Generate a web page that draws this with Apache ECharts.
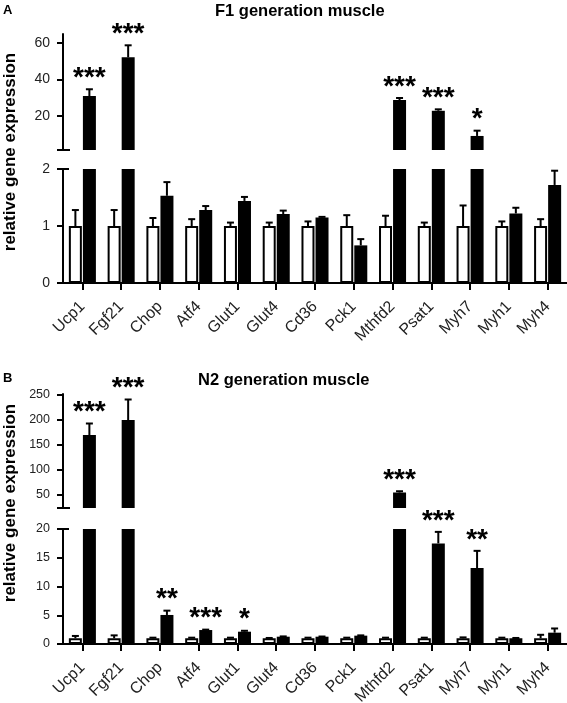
<!DOCTYPE html>
<html>
<head>
<meta charset="utf-8">
<script src="https://cdn.jsdelivr.net/npm/echarts@6/dist/echarts.min.js"></script>
<style>
html,body{margin:0;padding:0;background:#fff;}
#chart{width:567px;height:703px;}
</style>
</head>
<body>
<div id="chart"></div>
<script>
// ---------- data ----------
const genes = ['Ucp1','Fgf21','Chop','Atf4','Glut1','Glut4','Cd36','Pck1','Mthfd2','Psat1','Myh7','Myh1','Myh4'];

// Panel A: F1 generation muscle
const ctrlA    = [1,1,1,1,1,1,1,1,1,1,1,1,1];
const ctrlErrA = [1.28,1.28,1.14,1.12,1.06,1.06,1.08,1.19,1.18,1.06,1.36,1.08,1.12];
const trtA     = [31.0,52.2,1.53,1.28,1.44,1.21,1.15,0.66,28.8,22.9,9.1,1.22,1.72];
const trtErrA  = [34.7,58.8,1.77,1.35,1.51,1.27,1.16,0.77,29.9,23.7,12.0,1.32,1.97];
const sigA     = ['***','***','','','','','','','***','***','*','',''];

// Panel B: N2 generation muscle
const ctrlB    = [1,1,1,1,1,1,1,1,1,1,1,1,1];
const ctrlErrB = [1.4,1.5,1.1,1.1,1.1,1.05,1.1,1.1,1.1,1.1,1.15,1.1,1.6];
const trtB     = [170,200,5.05,2.43,2.14,1.27,1.27,1.45,55,17.5,13.2,1.0,1.97];
const trtErrB  = [193,241,5.8,2.5,2.3,1.32,1.3,1.5,57.5,19.5,16.2,1.05,2.7];
const sigB     = ['***','***','**','***','*','','','','***','***','**','',''];

// axis ticks
const ticksAUpper = [20,40,60];
const ticksALower = [0,1,2];
const ticksBUpper = [50,100,150,200,250];
const ticksBLower = [0,5,10,15,20];

// ---------- layout ----------
const FONT = 'Liberation Sans, Arial, sans-serif';
const L = 63, W = 504;
const grids = [
  {left:L, width:W, top:34,  height:116, outerBoundsMode:'none', containLabel:false},
  {left:L, width:W, top:169, height:114, outerBoundsMode:'none', containLabel:false},
  {left:L, width:W, top:394, height:114, outerBoundsMode:'none', containLabel:false},
  {left:L, width:W, top:529, height:115, outerBoundsMode:'none', containLabel:false}
];
const yRanges = [
  {min:1.4, max:65,  ticks:ticksAUpper, fs:14},
  {min:0,   max:2,   ticks:ticksALower, fs:14},
  {min:24,  max:252, ticks:ticksBUpper, fs:12.5},
  {min:0,   max:20,  ticks:ticksBLower, fs:12.5}
];

const xAxes = grids.map((g,i)=>{
  const lower = (i%2===1);
  return {
    type:'category', gridIndex:i, data:genes, show:lower,
    axisLine:{show:lower, lineStyle:{color:'#000', width:2}},
    axisTick:{show:lower, alignWithLabel:true, length:7, lineStyle:{color:'#000', width:2}},
    axisLabel:{show:lower, interval:0, rotate:45, margin:21, fontSize:16, fontFamily:FONT, color:'#222', hideOverlap:false},
    splitLine:{show:false}
  };
});
const yAxes = yRanges.map((r,i)=>({
  type:'value', gridIndex:i, min:r.min, max:r.max,
  axisLine:{show:true, lineStyle:{color:'#000', width:2}},
  axisTick:{show:true, length:6, customValues:r.ticks, lineStyle:{color:'#000', width:2}},
  axisLabel:{show:true, customValues:r.ticks, margin:13, fontSize:r.fs, fontFamily:FONT, color:'#222'},
  splitLine:{show:false}
}));

const series = [];
function addPanel(ctrl, ctrlErr, trt, trtErr, sig, gUpper, gLower) {
  const lowerMax = yRanges[gLower].max;
  [[gUpper,true],[gLower,false]].forEach(([g,isUpper])=>{
    const pick = (v)=> isUpper ? (v > lowerMax ? v : '-') : v;
    series.push({
      type:'bar', xAxisIndex:g, yAxisIndex:g, barWidth:13, barGap:'8%',
      data: ctrl.map(pick), clip:true, silent:true,
      itemStyle:{color:'#fff', borderColor:'#000', borderWidth:2}
    });
    series.push({
      type:'bar', xAxisIndex:g, yAxisIndex:g, barWidth:13, barGap:'8%',
      data: trt.map(pick), clip:true, silent:true,
      itemStyle:{color:'#000', borderColor:'#000', borderWidth:0}
    });
    const inGrid = (v)=> isUpper ? v > lowerMax : v <= lowerMax;
    const mk = (vals, errs, offset, sigs) => ({
      type:'custom', xAxisIndex:g, yAxisIndex:g, z:5, silent:true,
      data: vals.map((v,i)=>[i, v, errs[i]]).filter(d=>inGrid(d[1])),
      encode:{x:0, y:1},
      renderItem:(params, api)=>{
        const i = api.value(0), m = api.value(1), e = api.value(2);
        const p0 = api.coord([i, m]);
        const p1 = api.coord([i, e]);
        const cs = params.coordSys;
        const x = p0[0] + offset;
        const yTop = Math.max(p1[1], cs.y);
        const yBot = Math.min(p0[1], cs.y + cs.height);
        const ch = [
          {type:'line', shape:{x1:x, y1:yBot, x2:x, y2:yTop}, style:{stroke:'#000', lineWidth:2}},
          {type:'line', shape:{x1:x-3.5, y1:yTop, x2:x+3.5, y2:yTop}, style:{stroke:'#000', lineWidth:2}}
        ];
        if (sigs && sigs[i]) {
          ch.push({type:'text', style:{text:sigs[i], x:x, y:yTop-11, align:'center', verticalAlign:'middle',
            fontSize:28, fontWeight:'bold', fontFamily:FONT, fill:'#000'}});
        }
        return {type:'group', children:ch};
      }
    });
    series.push(mk(ctrl, ctrlErr, -7, null));
    series.push(mk(trt, trtErr, 7, sig));
  });
}
addPanel(ctrlA, ctrlErrA, trtA, trtErrA, sigA, 0, 1);
addPanel(ctrlB, ctrlErrB, trtB, trtErrB, sigB, 2, 3);

// break marks on the y axes
const breaks = [];
[[0,1],[2,3]].forEach(([u,lw])=>{
  const yb = grids[u].top + grids[u].height;
  const yt = grids[lw].top;
  breaks.push({type:'line', shape:{x1:L-6, y1:yb, x2:L+7, y2:yb}, style:{stroke:'#000', lineWidth:2}});
  breaks.push({type:'line', shape:{x1:L-6, y1:yt, x2:L+6, y2:yt}, style:{stroke:'#000', lineWidth:2}});
});

const option = {
  animation:false,
  backgroundColor:'#fff',
  title:[
    {text:'F1 generation muscle', left:215, top:3, padding:0, textStyle:{fontSize:16.5, fontWeight:'bold', fontFamily:FONT, color:'#000'}},
    {text:'N2 generation muscle', left:198, top:372, padding:0, textStyle:{fontSize:16.5, fontWeight:'bold', fontFamily:FONT, color:'#000'}}
  ],
  grid: grids,
  xAxis: xAxes,
  yAxis: yAxes,
  series: series,
  graphic: [
    {type:'text', x:3, y:4, style:{text:'A', fontSize:13, fontWeight:'bold', fontFamily:FONT, fill:'#000'}},
    {type:'text', x:3, y:372, style:{text:'B', fontSize:13, fontWeight:'bold', fontFamily:FONT, fill:'#000'}},
    {type:'text', x:10, y:152, rotation:Math.PI/2, style:{text:'relative gene expression', align:'center', verticalAlign:'middle', fontSize:17, fontWeight:'bold', fontFamily:FONT, fill:'#000'}},
    {type:'text', x:10, y:503, rotation:Math.PI/2, style:{text:'relative gene expression', align:'center', verticalAlign:'middle', fontSize:17, fontWeight:'bold', fontFamily:FONT, fill:'#000'}}
  ].concat(breaks)
};

const chart = echarts.init(document.getElementById('chart'), null, {renderer:'canvas'});
chart.setOption(option);
</script>
</body>
</html>
